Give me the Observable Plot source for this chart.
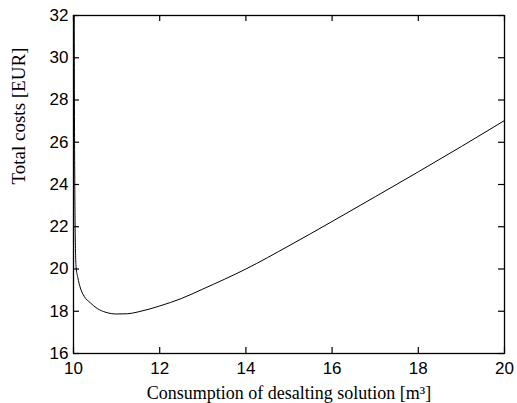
<!DOCTYPE html>
<html>
<head>
<meta charset="utf-8">
<script src="https://cdn.jsdelivr.net/npm/d3@7"></script>
<script src="https://cdn.jsdelivr.net/npm/@observablehq/plot@0.6"></script>
<style>
  html, body { margin: 0; padding: 0; background: #fff; }
  #chart svg { display: block; }
</style>
</head>
<body>
<div id="chart"></div>
<script>
const consumption = [10.015, 10.02, 10.03, 10.04, 10.06, 10.1, 10.16, 10.25, 10.39, 10.55, 10.75, 11.0, 11.25, 11.5, 12.0, 12.5, 13.0, 14.0, 15.0, 16.0, 17.0, 18.0, 19.0, 20.0];
const totalCost   = [34,     29,    24,    21.6,  20.1,  19.6, 19.1,  18.7,  18.4,  18.13, 17.95, 17.87, 17.88, 17.97, 18.25, 18.6, 19.05, 20.0, 21.1, 22.25, 23.42, 24.6, 25.8, 27.03];
const xTicks = [10, 12, 14, 16, 18, 20];
const yTicks = [16, 18, 20, 22, 24, 26, 28, 30, 32];
const xDomain = [10, 20];
const yDomain = [16, 32];

const data = consumption.map((x, i) => ({x, y: totalCost[i]}));
const xTickData = xTicks.map(v => ({v}));
const yTickData = yTicks.map(v => ({v}));

const W = 517, H = 403, ML = 73, MR = 13, MT = 15, MB = 50;
const fw = W - ML - MR, fh = H - MT - MB, tk = 6;

const chart = Plot.plot({
  width: W,
  height: H,
  marginLeft: ML,
  marginRight: MR,
  marginTop: MT,
  marginBottom: MB,
  style: {fontFamily: "Liberation Sans, Arial, sans-serif", fontSize: "17px", color: "#000", background: "#fff"},
  x: {domain: xDomain},
  y: {domain: yDomain},
  marks: [
    Plot.line(data, {x: "x", y: "y", stroke: "#000", strokeWidth: 1, clip: true, curve: "monotone-x"}),
    Plot.tickX(xTickData, {x: "v", insetTop: fh - tk, stroke: "#000", strokeWidth: 1.2}),
    Plot.tickX(xTickData, {x: "v", insetBottom: fh - tk, stroke: "#000", strokeWidth: 1.2}),
    Plot.tickY(yTickData, {y: "v", insetRight: fw - tk, stroke: "#000", strokeWidth: 1.2}),
    Plot.tickY(yTickData, {y: "v", insetLeft: fw - tk, stroke: "#000", strokeWidth: 1.2}),
    Plot.frame({stroke: "#000", strokeWidth: 1.3}),
    Plot.axisX({anchor: "bottom", ticks: xTicks, tickSize: 0, tickPadding: 8, label: null, fontSize: 17}),
    Plot.axisY({anchor: "left", ticks: yTicks, tickSize: 0, tickPadding: 5, label: null, fontSize: 17}),
    Plot.text(["Consumption of desalting solution [m³]"], {frameAnchor: "bottom", dy: 45, fontFamily: "Liberation Serif, Times New Roman, serif", fontSize: 18, fill: "#000"}),
    Plot.text(["Total costs [EUR]"], {frameAnchor: "left", dx: -55, rotate: -90, fontFamily: "Liberation Serif, Times New Roman, serif", fontSize: 19, fill: "#000"})
  ]
});
document.getElementById("chart").appendChild(chart);
</script>
</body>
</html>
